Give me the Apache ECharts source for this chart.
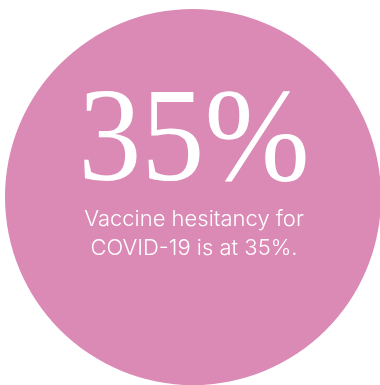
<!DOCTYPE html>
<html>
<head>
<meta charset="utf-8">
<script src="https://cdn.jsdelivr.net/npm/echarts@6/dist/echarts.min.js"></script>
<style>html,body{margin:0;padding:0;background:#fff;}#c{width:380px;height:385px;}</style>
</head>
<body>
<div id="c"></div>
<script>
// Data
var statValue = 35;
var statLabel = '35%';
var captionLines = ['Vaccine hesitancy for', 'COVID-19 is at 35%.'];
var circleColor = '#DB89B5';

var chart = echarts.init(document.getElementById('c'), null, {renderer: 'canvas'});
chart.setOption({
  backgroundColor: '#ffffff',
  animation: false,
  series: [{
    type: 'pie',
    center: [193, 197],
    radius: [0, 188],
    silent: true,
    label: {show: false},
    labelLine: {show: false},
    itemStyle: {color: circleColor, borderWidth: 0},
    data: [{name: 'hesitancy', value: statValue}]
  }],
  graphic: [
    {
      type: 'text', z: 100, x: 194, y: 145, scaleX: 0.95, scaleY: 1.01,
      style: {text: statLabel, fill: '#ffffff', font: '300 133px "Liberation Serif"', align: 'center', verticalAlign: 'middle'}
    },
    {
      type: 'text', z: 100, x: 194, y: 219,
      style: {text: captionLines[0], fill: '#ffffff', font: '300 22px Inter', align: 'center', verticalAlign: 'middle'}
    },
    {
      type: 'text', z: 100, x: 194, y: 248,
      style: {text: captionLines[1], fill: '#ffffff', font: '300 22px Inter', align: 'center', verticalAlign: 'middle'}
    }
  ]
});
</script>
</body>
</html>
